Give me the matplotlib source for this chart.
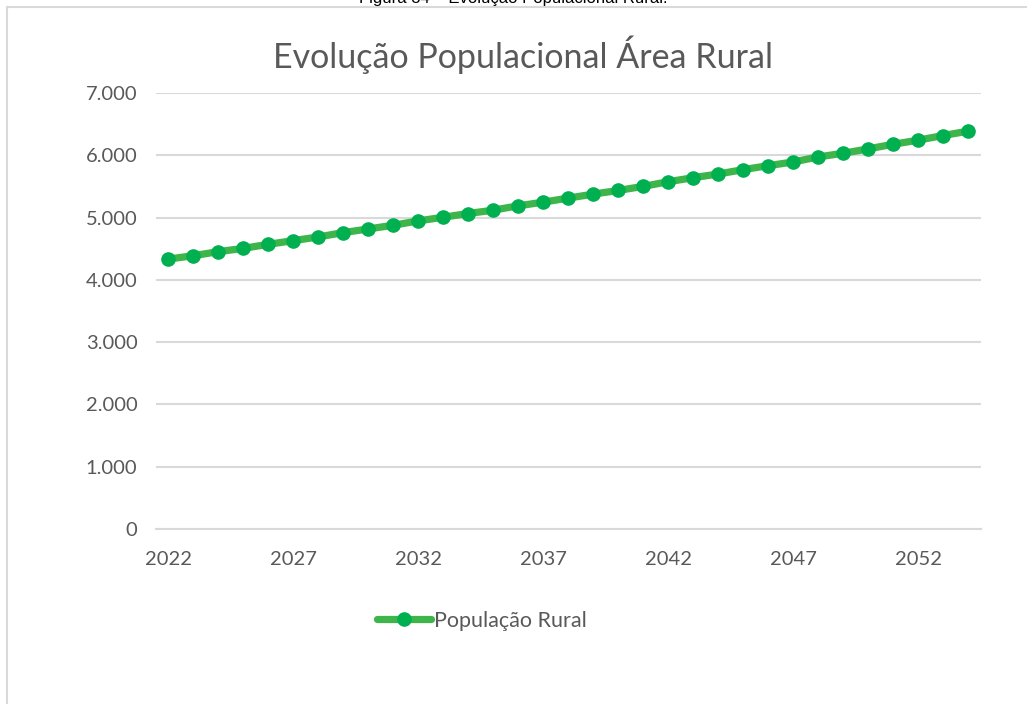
import matplotlib
matplotlib.use("Agg")
import matplotlib.pyplot as plt
from matplotlib.patches import Rectangle
from matplotlib.ticker import FuncFormatter

years = list(range(2022, 2055))
populacao_rural = [4333, 4387, 4452, 4505, 4570, 4629, 4688, 4758, 4817, 4876,
                   4946, 5005, 5065, 5118, 5188, 5247, 5312, 5376, 5435, 5500,
                   5575, 5640, 5699, 5769, 5833, 5892, 5973, 6032, 6102, 6177,
                   6242, 6317, 6387]
tick_years = [2022, 2027, 2032, 2037, 2042, 2047, 2052]
title = "Evolução Populacional Área Rural"
series_name = "População Rural"
caption = "Figura 34 – Evolução Populacional Rural."

W, H = 1027, 704
fig = plt.figure(figsize=(W / 100, H / 100), dpi=100)
FONT = "Lato"
GRAY = "#595959"
GRID = "#d9d9d9"

# chart frame
fig.patches.append(Rectangle((7 / W, -0.05), 1.1, 1 - 7 / H + 0.05,
                             transform=fig.transFigure, fill=False,
                             edgecolor=GRID, linewidth=1.5))
# caption clipped at top (as in the reference)
fig.text(513 / W, 1 - 3 / H, caption, ha="center", va="baseline",
         fontsize=12, family="Liberation Sans", color="#000000")

ax = fig.add_axes([155.5 / W, 1 - 529 / H, 825 / W, 436 / H])
idx = list(range(len(years)))
line, = ax.plot(idx, populacao_rural, color="#3DB54A", linewidth=5.2,
                marker="o", markersize=9.5, markerfacecolor="#00B050",
                markeredgecolor="#00B050", solid_capstyle="round", label=series_name,
                zorder=3)
ax.set_xlim(-0.5, len(years) - 0.5)
ax.set_ylim(0, 7000)
ax.set_yticks(range(0, 7001, 1000))
ax.yaxis.set_major_formatter(FuncFormatter(lambda v, p: f"{int(v):,}".replace(",", ".")))
ax.set_xticks([years.index(y) for y in tick_years])
ax.set_xticklabels([str(y) for y in tick_years])
ax.grid(axis="y", color=GRID, linewidth=1.5)
ax.set_axisbelow(True)
for s in ["top", "right", "left"]:
    ax.spines[s].set_visible(False)
ax.spines["bottom"].set_color(GRID)
ax.spines["bottom"].set_linewidth(1.5)
ax.tick_params(axis="both", length=0, colors=GRAY, labelsize=14.5)
ax.tick_params(axis="y", pad=13)
ax.tick_params(axis="x", pad=16)
for lab in ax.get_xticklabels() + ax.get_yticklabels():
    lab.set_family(FONT)

fig.text(523 / W, 1 - 55 / H, title, ha="center", va="center",
         fontsize=24.5, family=FONT, color=GRAY)

leg = fig.legend(handles=[line], loc="center", bbox_to_anchor=(482 / W, 1 - 621 / H),
                 frameon=False, handlelength=2.5, handletextpad=0.15,
                 prop={"family": FONT, "size": 15.5})
for t in leg.get_texts():
    t.set_color(GRAY)

fig.savefig("out.png", dpi=100, facecolor="white")
